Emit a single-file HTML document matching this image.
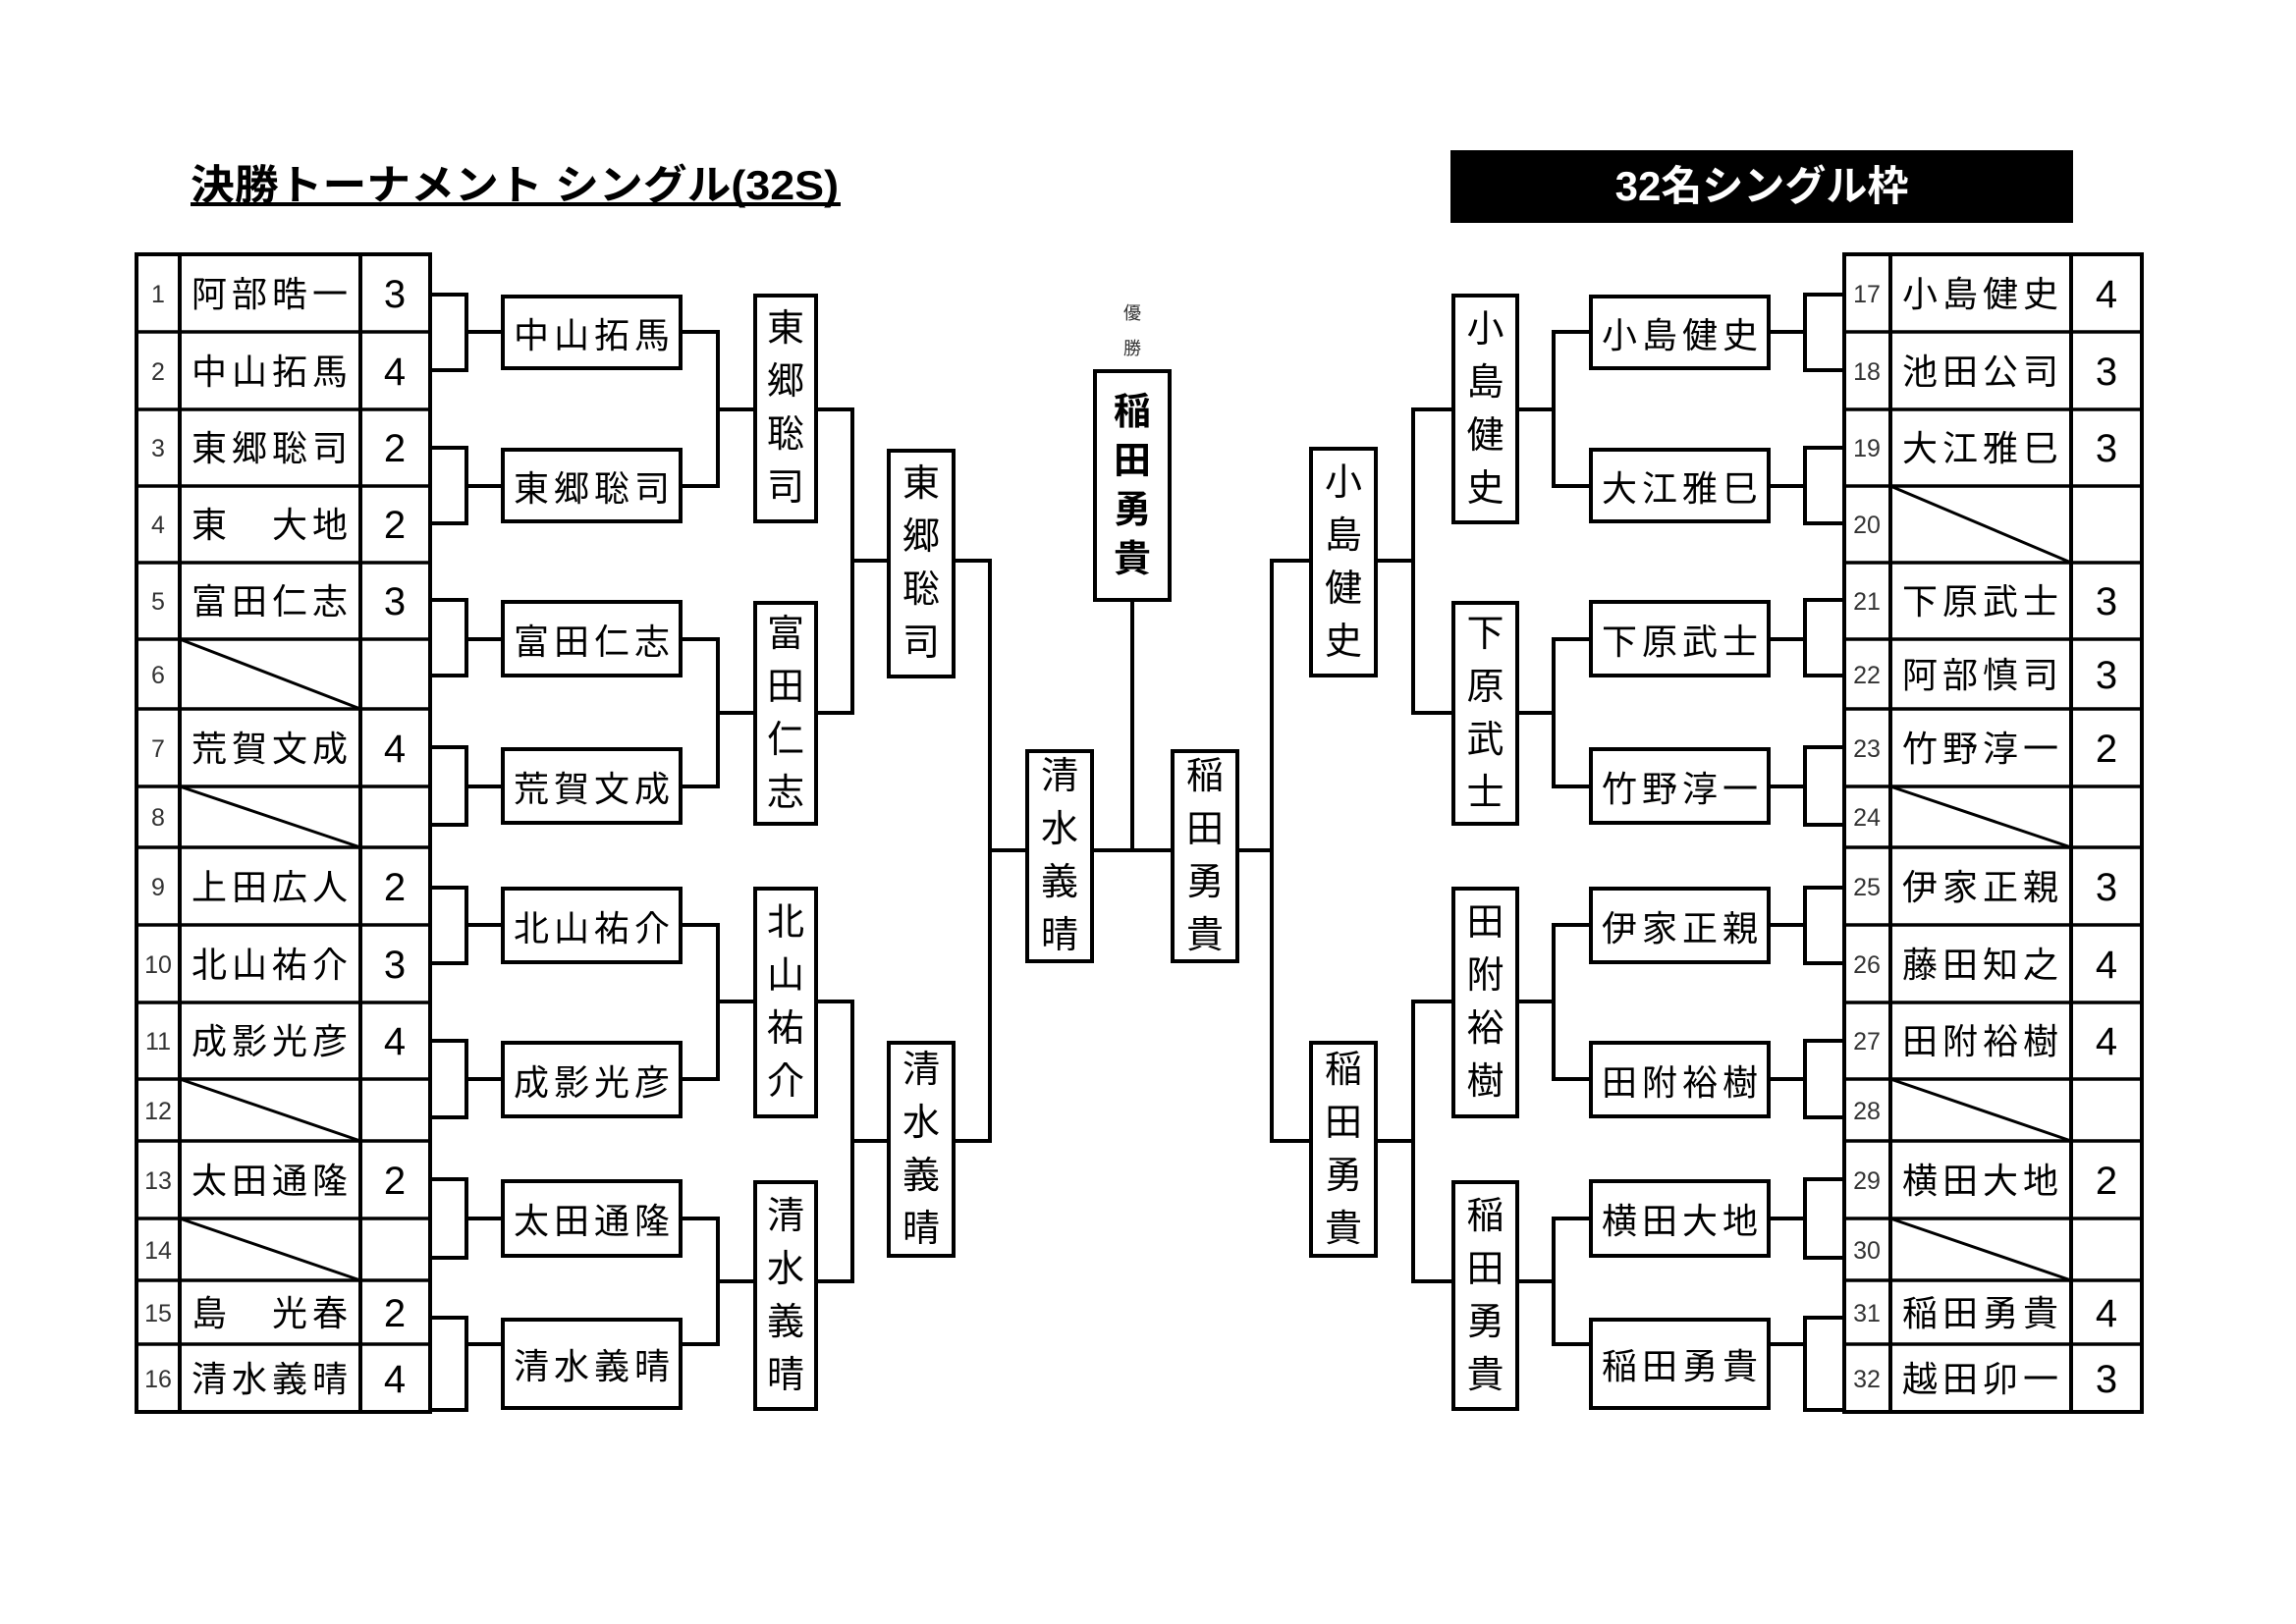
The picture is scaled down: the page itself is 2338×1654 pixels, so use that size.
<!DOCTYPE html>
<html><head><meta charset="utf-8"><style>
html,body{margin:0;padding:0;background:#fff}
body{width:2338px;height:1654px;position:relative;overflow:hidden;font-family:"Liberation Sans","Noto Sans CJK JP",sans-serif;color:#000}
svg{position:absolute;left:0;top:0}
.b{position:absolute;border:4px solid #000;box-sizing:border-box;display:flex;align-items:center;justify-content:center;background:#fff}
.h{font-size:36px;letter-spacing:5px;padding-left:5px;white-space:nowrap}
.v{font-size:38px;line-height:54px;text-align:center}
.c{font-size:38px;line-height:50px;text-align:center;font-weight:bold}
</style></head><body>
<svg width="2338" height="1654" viewBox="0 0 2338 1654" font-family="Liberation Sans, Noto Sans CJK JP, sans-serif">
<text x="194" y="203" font-size="42" font-weight="bold" textLength="660" lengthAdjust="spacingAndGlyphs">決勝トーナメント シングル(32S)</text>
<rect x="194" y="206" width="662" height="4" fill="#000"/>
<rect x="1477" y="153" width="634" height="74" fill="#000"/>
<text x="1794" y="204" font-size="42" font-weight="bold" fill="#fff" text-anchor="middle">32名シングル枠</text>

<g stroke="#000" stroke-width="4" fill="none">
<rect x="139" y="259" width="299" height="1179"/>
<line x1="183" y1="259" x2="183" y2="1438"/><line x1="367" y1="259" x2="367" y2="1438"/>
<rect x="1878" y="259" width="303" height="1179"/>
<line x1="1925" y1="259" x2="1925" y2="1438"/><line x1="2109" y1="259" x2="2109" y2="1438"/>
</g>
<g stroke="#000" stroke-width="3.5">
<line x1="139" y1="338" x2="438" y2="338"/><line x1="139" y1="417" x2="438" y2="417"/><line x1="139" y1="495" x2="438" y2="495"/><line x1="139" y1="573" x2="438" y2="573"/><line x1="139" y1="651" x2="438" y2="651"/><line x1="139" y1="722" x2="438" y2="722"/><line x1="139" y1="801" x2="438" y2="801"/><line x1="139" y1="863" x2="438" y2="863"/><line x1="139" y1="942" x2="438" y2="942"/><line x1="139" y1="1021" x2="438" y2="1021"/><line x1="139" y1="1099" x2="438" y2="1099"/><line x1="139" y1="1162" x2="438" y2="1162"/><line x1="139" y1="1241" x2="438" y2="1241"/><line x1="139" y1="1304" x2="438" y2="1304"/><line x1="139" y1="1369" x2="438" y2="1369"/>
<line x1="1878" y1="338" x2="2181" y2="338"/><line x1="1878" y1="417" x2="2181" y2="417"/><line x1="1878" y1="495" x2="2181" y2="495"/><line x1="1878" y1="573" x2="2181" y2="573"/><line x1="1878" y1="651" x2="2181" y2="651"/><line x1="1878" y1="722" x2="2181" y2="722"/><line x1="1878" y1="801" x2="2181" y2="801"/><line x1="1878" y1="863" x2="2181" y2="863"/><line x1="1878" y1="942" x2="2181" y2="942"/><line x1="1878" y1="1021" x2="2181" y2="1021"/><line x1="1878" y1="1099" x2="2181" y2="1099"/><line x1="1878" y1="1162" x2="2181" y2="1162"/><line x1="1878" y1="1241" x2="2181" y2="1241"/><line x1="1878" y1="1304" x2="2181" y2="1304"/><line x1="1878" y1="1369" x2="2181" y2="1369"/>
</g>
<g stroke="#000" stroke-width="3">
<line x1="183" y1="651" x2="367" y2="722"/><line x1="183" y1="801" x2="367" y2="863"/><line x1="183" y1="1099" x2="367" y2="1162"/><line x1="183" y1="1241" x2="367" y2="1304"/>
<line x1="1925" y1="495" x2="2109" y2="573"/><line x1="1925" y1="801" x2="2109" y2="863"/><line x1="1925" y1="1099" x2="2109" y2="1162"/><line x1="1925" y1="1241" x2="2109" y2="1304"/>
</g>

<g stroke="#000" stroke-width="4" fill="none" stroke-linejoin="miter">
<path d="M438 300H475V377H438M475 338H510"/>
<path d="M438 456H475V533H438M475 495H510"/>
<path d="M438 611H475V688H438M475 651H510"/>
<path d="M438 761H475V840H438M475 801H510"/>
<path d="M438 904H475V981H438M475 942H510"/>
<path d="M438 1060H475V1138H438M475 1099H510"/>
<path d="M438 1201H475V1281H438M475 1241H510"/>
<path d="M438 1342H475V1436H438M475 1369H510"/>
<path d="M695 338H731V495H695M731 417H767"/>
<path d="M695 651H731V801H695M731 726H767"/>
<path d="M695 942H731V1099H695M731 1020H767"/>
<path d="M695 1241H731V1369H695M731 1305H767"/>
<path d="M833 417H868V726H833M868 571H903"/>
<path d="M833 1020H868V1305H833M868 1162H903"/>
<path d="M973 571H1008V1162H973M1008 866H1044"/>
<path d="M1113 866H1192M1153 612V866"/>
<path d="M1261 866H1295M1333 571H1295V1162H1333"/>
<path d="M1403 571H1439M1478 417H1439V726H1478"/>
<path d="M1403 1162H1439M1478 1020H1439V1305H1478"/>
<path d="M1547 417H1582M1618 338H1582V495H1618"/>
<path d="M1547 726H1582M1618 651H1582V801H1618"/>
<path d="M1547 1020H1582M1618 942H1582V1099H1618"/>
<path d="M1547 1305H1582M1618 1241H1582V1369H1618"/>
<path d="M1803 338H1838M1878 300H1838V377H1878"/>
<path d="M1803 495H1838M1878 456H1838V533H1878"/>
<path d="M1803 651H1838M1878 611H1838V688H1878"/>
<path d="M1803 801H1838M1878 761H1838V840H1878"/>
<path d="M1803 942H1838M1878 904H1838V981H1878"/>
<path d="M1803 1099H1838M1878 1060H1838V1138H1878"/>
<path d="M1803 1241H1838M1878 1201H1838V1281H1878"/>
<path d="M1803 1369H1838M1878 1342H1838V1436H1878"/>
</g>

<g font-size="25" text-anchor="middle" fill="#333">
<text x="161" y="308">1</text><text x="161" y="387">2</text><text x="161" y="465">3</text><text x="161" y="543">4</text><text x="161" y="621">5</text><text x="161" y="696">6</text><text x="161" y="771">7</text><text x="161" y="841">8</text><text x="161" y="912">9</text><text x="161" y="991">10</text><text x="161" y="1069">11</text><text x="161" y="1140">12</text><text x="161" y="1211">13</text><text x="161" y="1282">14</text><text x="161" y="1346">15</text><text x="161" y="1413">16</text>
<text x="1901" y="308">17</text><text x="1901" y="387">18</text><text x="1901" y="465">19</text><text x="1901" y="543">20</text><text x="1901" y="621">21</text><text x="1901" y="696">22</text><text x="1901" y="771">23</text><text x="1901" y="841">24</text><text x="1901" y="912">25</text><text x="1901" y="991">26</text><text x="1901" y="1069">27</text><text x="1901" y="1140">28</text><text x="1901" y="1211">29</text><text x="1901" y="1282">30</text><text x="1901" y="1346">31</text><text x="1901" y="1413">32</text>
</g>
<g font-size="36" style="letter-spacing:5px">
<text x="195" y="312">阿部晧一</text><text x="195" y="391">中山拓馬</text><text x="195" y="469">東郷聡司</text><text x="195" y="547">東　大地</text><text x="195" y="625">富田仁志</text><text x="195" y="775">荒賀文成</text><text x="195" y="916">上田広人</text><text x="195" y="995">北山祐介</text><text x="195" y="1073">成影光彦</text><text x="195" y="1215">太田通隆</text><text x="195" y="1350">島　光春</text><text x="195" y="1417">清水義晴</text>
<text x="1937" y="312">小島健史</text><text x="1937" y="391">池田公司</text><text x="1937" y="469">大江雅巳</text><text x="1937" y="625">下原武士</text><text x="1937" y="700">阿部慎司</text><text x="1937" y="775">竹野淳一</text><text x="1937" y="916">伊家正親</text><text x="1937" y="995">藤田知之</text><text x="1937" y="1073">田附裕樹</text><text x="1937" y="1215">横田大地</text><text x="1937" y="1350">稲田勇貴</text><text x="1937" y="1417">越田卯一</text>
</g>
<g font-size="40" text-anchor="middle">
<text x="402" y="313">3</text><text x="402" y="392">4</text><text x="402" y="470">2</text><text x="402" y="548">2</text><text x="402" y="626">3</text><text x="402" y="776">4</text><text x="402" y="917">2</text><text x="402" y="996">3</text><text x="402" y="1074">4</text><text x="402" y="1216">2</text><text x="402" y="1351">2</text><text x="402" y="1418">4</text>
<text x="2145" y="313">4</text><text x="2145" y="392">3</text><text x="2145" y="470">3</text><text x="2145" y="626">3</text><text x="2145" y="701">3</text><text x="2145" y="776">2</text><text x="2145" y="917">3</text><text x="2145" y="996">4</text><text x="2145" y="1074">4</text><text x="2145" y="1216">2</text><text x="2145" y="1351">4</text><text x="2145" y="1418">3</text>
</g>
<g font-size="18" text-anchor="middle" fill="#333">
<text x="1153" y="325">優</text><text x="1153" y="361">勝</text>
</g>
</svg>

<div class="b h" style="left:510px;top:300px;width:185px;height:77px">中山拓馬</div>
<div class="b h" style="left:510px;top:456px;width:185px;height:77px">東郷聡司</div>
<div class="b h" style="left:510px;top:611px;width:185px;height:79px">富田仁志</div>
<div class="b h" style="left:510px;top:761px;width:185px;height:79px">荒賀文成</div>
<div class="b h" style="left:510px;top:903px;width:185px;height:79px">北山祐介</div>
<div class="b h" style="left:510px;top:1060px;width:185px;height:79px">成影光彦</div>
<div class="b h" style="left:510px;top:1201px;width:185px;height:80px">太田通隆</div>
<div class="b h" style="left:510px;top:1342px;width:185px;height:94px">清水義晴</div>
<div class="b v" style="left:767px;top:299px;width:66px;height:234px">東<br>郷<br>聡<br>司</div>
<div class="b v" style="left:767px;top:612px;width:66px;height:229px">富<br>田<br>仁<br>志</div>
<div class="b v" style="left:767px;top:903px;width:66px;height:236px">北<br>山<br>祐<br>介</div>
<div class="b v" style="left:767px;top:1202px;width:66px;height:235px">清<br>水<br>義<br>晴</div>
<div class="b v" style="left:903px;top:457px;width:70px;height:234px">東<br>郷<br>聡<br>司</div>
<div class="b v" style="left:903px;top:1060px;width:70px;height:221px">清<br>水<br>義<br>晴</div>
<div class="b v" style="left:1044px;top:763px;width:70px;height:218px">清<br>水<br>義<br>晴</div>
<div class="b v" style="left:1192px;top:763px;width:70px;height:218px">稲<br>田<br>勇<br>貴</div>
<div class="b c" style="left:1113px;top:376px;width:80px;height:237px">稲<br>田<br>勇<br>貴</div>
<div class="b v" style="left:1333px;top:455px;width:70px;height:235px">小<br>島<br>健<br>史</div>
<div class="b v" style="left:1333px;top:1060px;width:70px;height:221px">稲<br>田<br>勇<br>貴</div>
<div class="b v" style="left:1478px;top:299px;width:69px;height:235px">小<br>島<br>健<br>史</div>
<div class="b v" style="left:1478px;top:612px;width:69px;height:229px">下<br>原<br>武<br>士</div>
<div class="b v" style="left:1478px;top:903px;width:69px;height:236px">田<br>附<br>裕<br>樹</div>
<div class="b v" style="left:1478px;top:1202px;width:69px;height:235px">稲<br>田<br>勇<br>貴</div>
<div class="b h" style="left:1618px;top:300px;width:185px;height:77px">小島健史</div>
<div class="b h" style="left:1618px;top:456px;width:185px;height:77px">大江雅巳</div>
<div class="b h" style="left:1618px;top:611px;width:185px;height:79px">下原武士</div>
<div class="b h" style="left:1618px;top:761px;width:185px;height:79px">竹野淳一</div>
<div class="b h" style="left:1618px;top:903px;width:185px;height:79px">伊家正親</div>
<div class="b h" style="left:1618px;top:1060px;width:185px;height:79px">田附裕樹</div>
<div class="b h" style="left:1618px;top:1201px;width:185px;height:80px">横田大地</div>
<div class="b h" style="left:1618px;top:1342px;width:185px;height:94px">稲田勇貴</div>
</body></html>
